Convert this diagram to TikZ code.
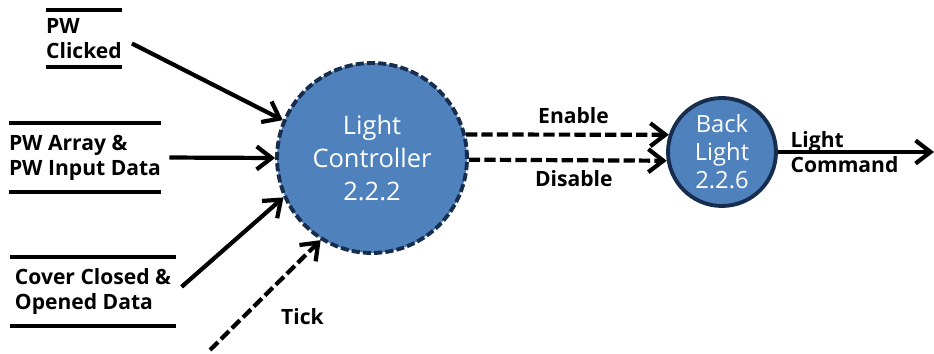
\documentclass[tikz,border=0pt]{standalone}
\usepackage{fontspec}
\setmainfont{Open Sans}
\usepackage{tikz}
\usetikzlibrary{arrows.meta}
\usetikzlibrary{calc}
\usetikzlibrary{positioning}

\definecolor{procfill}{RGB}{79,129,189}
\definecolor{procline}{RGB}{22,45,78}

\begin{document}
\begin{tikzpicture}[x=0.02cm, y=-0.02cm,
        flow/.style={line width=2.4pt, -{Straight Barb[length=0.3cm, width=0.46cm]}},
        cflow/.style={flow, dash pattern=on 6.4pt off 2.4pt},
        proc/.style={circle, fill=procfill, draw=procline, line width=2.2pt,
            text=white, align=center, inner sep=0pt},
        store/.style={align=left, inner sep=0pt, font=\bfseries\fontsize{12}{14.2}\selectfont},
        storeline/.style={line width=2.4pt},
        lbl/.style={font=\bfseries\fontsize{12}{14.2}\selectfont}]
        \useasboundingbox (0,0) rectangle (934,354);

        % processes
        \node[proc, dash pattern=on 4.6pt off 1.8pt, minimum size=3.8cm,
            font=\fontsize{14.5}{18.8}\selectfont] (ctrl) at (372,158)
            {Light\\Controller\\2.2.2};
        \node[proc, minimum size=2.16cm, font=\fontsize{13.5}{16}\selectfont]
            (bl) at (722,152) {Back\\Light\\2.2.6};

        % data stores
        \node[store, minimum width=1.48cm, minimum height=1.14cm] (pwc) at (84,38.5)
            {PW\\Clicked};
        \node[store, minimum width=3cm, minimum height=1.38cm] (pwa) at (85,157.5)
            {PW Array \&\\PW Input Data};
        \node[store, minimum width=3.32cm, minimum height=1.38cm] (cov) at (93,291.5)
            {Cover Closed \&\\Opened Data};
        \foreach \s in {pwc,pwa,cov} {
            \draw[storeline] (\s.north west) -- (\s.north east);
            \draw[storeline] (\s.south west) -- (\s.south east);
        }

        % free ends
        \coordinate (tickin) at (210,350);
        \coordinate (lcout) at (934,152);

        % data flows
        \draw[flow, shorten <=0.22cm] (pwc.east) -- (ctrl.157);
        \draw[flow, shorten <=0.16cm] (pwa.east) -- (ctrl.west);
        \draw[flow, shorten <=0.14cm] (cov.east) -- (ctrl.204);
        \draw[cflow] (tickin) -- (ctrl.238)
            node[lbl, pos=0.3, right=0.6cm] (tick) {Tick};

        % control flows
        \draw[cflow] (ctrl.14) -- (bl.162)
            node[lbl, pos=0.53, above=0.05cm] (en) {Enable};
        \draw[cflow] (ctrl.-1) -- (bl.189)
            node[lbl, pos=0.53, below=0.05cm] (dis) {Disable};
        \draw[flow] (bl.east) -- (lcout)
            node[lbl, pos=0.03, anchor=west, align=left] (lc) {Light\\Command};
    \end{tikzpicture}
\end{document}
